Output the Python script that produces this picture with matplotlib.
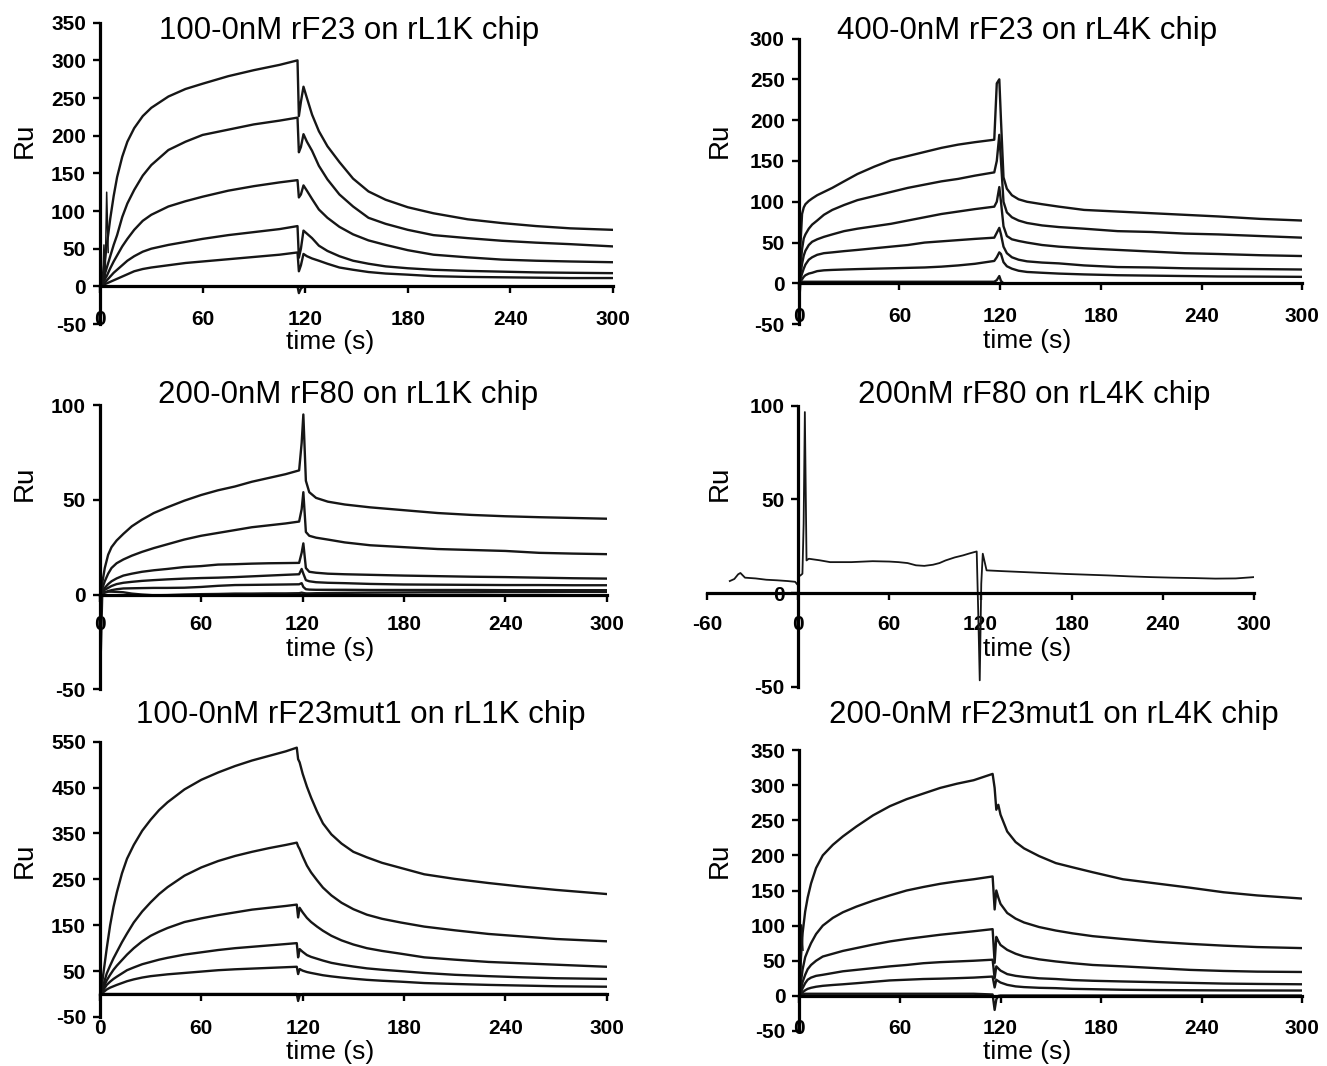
import matplotlib
matplotlib.use("Agg")
import matplotlib.pyplot as plt

plt.rcParams['font.family'] = ['Liberation Sans', 'DejaVu Sans']
plt.rcParams['axes.unicode_minus'] = False

# ---- panel 1: 100-0nM rF23 on rL1K chip ----
p1_t = [0, 1, 2, 4, 6, 8, 10, 13, 16, 20, 25, 30, 40, 50, 60, 75, 90, 105,
        115.5, 116.3, 117.5, 119, 121, 124, 128, 133, 140, 148, 157, 167, 180,
        195, 215, 235, 255, 275, 300]
p1_a = [0, 8, 20, 55, 90, 120, 145, 172, 192, 210, 226, 237, 252, 262, 269, 279, 287, 294,
        300, 226, 245, 265, 250, 228, 206, 186, 165, 143, 126, 115, 105, 97, 89, 84, 80, 77, 75]
p1_b = [0, 3, 10, 25, 40, 55, 68, 92, 110, 128, 147, 161, 181, 192, 201, 208, 215, 220,
        224, 178, 185, 202, 192, 180, 160, 142, 122, 106, 91, 83, 75, 68, 64, 60.5, 58, 56, 53]
p1_c = [0, 2, 6, 14, 24, 33, 41, 53, 63, 75, 87, 95, 106, 113, 119, 127, 133, 138,
        141, 118, 122, 134, 127, 116, 102, 91, 79, 69, 61, 55, 48, 42, 38.5, 35.5, 34, 33, 32]
p1_d = [0, 1, 3, 8, 13, 18, 22, 28, 34, 40, 46, 50, 55, 59, 63, 68, 72, 76,
        80, 38, 50, 74, 70, 64, 54, 47, 40, 34, 30, 26.5, 24, 22, 20.5, 19.5, 18.5, 18, 17.5]
p1_e = [0, 1, 2, 4, 6, 8, 10, 13, 16, 20, 23, 25, 28, 31, 33, 36, 39, 42,
        45, 20, 28, 43, 40, 37, 34, 30, 25, 22, 19, 17, 15.5, 13.5, 12.5, 12, 11.5, 11, 11]
p1_f = [0, 0, 0, 0, 0, 0, 0, 0, 0, 0, 0, 0, 0, 0, 0, 0, 0, 0,
        0, -9, -3, 0, 0, 0, 0, 0, 0, 0, 0, 0, 0, 0, 0, 0, 0, 0, 0]
p1_spike_t = [1.5, 2.3, 3.0, 3.9, 4.8]
p1_spike_v = [0, 55, 10, 125, 45]

# ---- panel 2: 400-0nM rF23 on rL4K chip ----
p2_t = [0, 1, 2, 3, 4, 6, 8, 11, 15, 20, 27, 35, 45, 55, 65, 75, 85, 95, 105,
        116.5, 118, 119.5, 120.5, 122, 124, 127, 131, 136, 145, 155, 170, 190,
        210, 230, 250, 275, 300]
p2_a = [0, 45, 85, 93, 97, 101, 104, 108, 112, 117, 125, 134, 143, 151, 156, 161, 166, 170, 173,
        176, 245, 250, 200, 130, 116, 108, 103, 100, 97, 94, 90, 88, 86, 84, 82, 79, 77]
p2_b = [0, 20, 42, 55, 60, 67, 72, 77, 84, 90, 96, 102, 107, 112, 117, 121, 125, 128, 132,
        136, 150, 182, 150, 100, 87, 81, 77, 74, 71, 69, 67, 64, 63, 61, 60, 58, 56]
p2_c = [0, 10, 24, 34, 40, 47, 51, 54, 57, 60, 64, 67, 70, 73, 77, 81, 85, 88, 91,
        94, 100, 118, 100, 70, 58, 54, 52, 50, 47, 45, 43, 41, 39, 37, 36, 34.5, 33.5]
p2_d = [0, 5, 12, 18, 23, 29, 32, 35, 37, 38, 39.5, 41, 43, 45, 47, 50, 51.5, 53, 54.5,
        56, 62, 68, 60, 45, 37, 32, 29, 27, 25.5, 24.5, 22, 20, 19.5, 18.5, 18, 17.5, 17]
p2_e = [0, 2, 5, 8, 10, 12, 13, 15, 16, 16.5, 17, 17.5, 18, 18.5, 19, 19.5, 20.5, 22, 24,
        27.5, 32, 38, 36, 26, 21, 18, 15.5, 14, 13, 12, 11, 10, 9.5, 9, 8.5, 8.3, 8]
p2_f = [-35, 1, 2, 2, 2, 2, 2, 2, 2, 2, 2, 2, 2, 2, 2, 2, 2, 2, 2,
        2, 4, 9, 3, 0, 0, 0, 0, 0, 0, 0, 0, 0, 0, 0, 0, 0, 0]

# ---- panel 3: 200-0nM rF80 on rL1K chip ----
p3_t = [0, 0.5, 1.5, 3, 5, 7, 10, 14, 19, 25, 32, 40, 50, 60, 70, 80, 90, 100,
        110, 118, 119.5, 120.5, 122, 124, 128, 135, 145, 160, 180, 200, 220,
        240, 260, 280, 300]
p3_a = [0, 2, 6, 14, 21, 25, 28.5, 32, 36, 39.5, 43, 46, 49.5, 52.5, 55, 57, 59.5, 61.5,
        63.5, 65.5, 80, 95, 60, 54, 51, 49, 47.5, 46, 44.5, 43, 42, 41.3, 40.8, 40.4, 40]
p3_b = [0, 1, 3, 7, 11, 14, 16.5, 18.5, 20.5, 22.5, 24.5, 26.5, 29, 31, 32.5, 34, 35.5, 36.5,
        37.5, 38.5, 45, 54, 33, 31, 30, 29, 27.5, 26, 25, 24, 23.5, 23, 22, 21.6, 21.3]
p3_c = [0, 0.5, 1.5, 3.5, 5.5, 7, 8.5, 10, 11, 12, 12.8, 13.5, 14.5, 15, 15.8, 16, 16.3, 16.5,
        16.6, 16.7, 22, 27, 14, 12, 11.5, 11, 10.7, 10.4, 10, 9.7, 9.4, 9.2, 8.9, 8.6, 8.4]
p3_d = [0, 0.3, 1, 2.5, 3.5, 4.5, 5.5, 6.2, 6.7, 7.2, 7.6, 8, 8.4, 8.7, 8.9, 9.2, 9.6, 10,
        10.4, 10.7, 13.5, 11, 7.6, 7, 6.5, 6.2, 6, 5.6, 5.3, 5.2, 5.1, 5, 5, 4.9, 4.9]
p3_e = [0, 0.2, 0.6, 1.2, 1.8, 2.3, 2.8, 3.2, 3.3, 3.4, 3.5, 3.5, 3.6, 4, 4.6, 5, 5.1, 5.2,
        5.3, 5.4, 6, 4, 2.8, 2.6, 2.5, 2.5, 2.5, 2.4, 2.4, 2.4, 2.4, 2.3, 2.3, 2.3, 2.3]
p3_f = [0, -36, 0, 1, 1.5, 1.5, 1.4, 1.2, 0.5, 0, -0.4, -0.3, 0, 0.2, 0.3, 0.5, 0.5, 0.6,
        0.6, 0.7, 1, 0.8, 0.6, 0.6, 0.7, 0.8, 0.9, 1, 1.1, 1.2, 1.2, 1.3, 1.3, 1.4, 1.4]

# ---- panel 4: 200nM rF80 on rL4K chip ----
p4_t = [-45, -42, -39.5, -38, -35, -28, -21, -14, -7, -2, -0.5, 0.5, 1.5, 2.8, 3.6,
        4.4, 5.5, 7, 14, 21, 35, 49, 60, 66, 72, 77.5, 83, 88.7, 93, 97, 103, 108.5,
        113, 117.5, 118.5, 119.5, 120.5, 121.5, 124, 134, 148, 162, 176, 190, 204,
        218, 232, 246.5, 260, 274.6, 288, 300]
p4_v = [6.4, 7.5, 10, 10.7, 8.2, 7.8, 7.1, 6.8, 6.4, 6, 4.5, 9, 9.4, 10.3, 37,
        96.6, 17.4, 18.3, 17.5, 16.5, 16.5, 17, 16.8, 16.5, 16, 14.8, 14.5, 15.1, 16, 17.4, 19, 20.1,
        21.2, 22.2, -10, -46.6, 5, 21, 12.1, 11.7, 11.2, 10.7, 10.2, 9.8, 9.4,
        8.9, 8.5, 8.2, 8, 7.7, 7.8, 8.5]

# ---- panel 5: 100-0nM rF23mut1 on rL1K chip ----
p5_t = [0, 1, 2, 4, 6, 8, 10, 13, 16, 20, 25, 30, 35, 40, 50, 60, 70, 80, 90, 100, 110,
        116.5, 117.3, 118.2, 120, 122.5, 125, 128.5, 132, 137, 143, 150, 158, 167,
        178, 192, 210, 230, 250, 270, 300]
p5_a = [0, 15, 45, 100, 150, 190, 222, 263, 295, 325, 356, 380, 401, 418, 446, 467, 483, 497,
        509, 519, 529, 537, 512, 505, 480, 452, 428, 398, 372, 348, 328, 310, 298, 286,
        275, 261, 251, 242, 234, 227, 218]
p5_b = [0, 8, 20, 45, 62, 78, 92, 113, 132, 156, 180, 200, 218, 233, 258, 276, 290, 301,
        310, 318, 325, 330, 322, 316, 300, 280, 265, 248, 232, 215, 199, 185, 173, 164,
        156, 147, 139, 131, 125.5, 120, 115]
p5_c = [0, 6, 14, 30, 42, 53, 62, 74, 86, 100, 115, 127, 136, 144, 157, 165, 172, 178,
        184, 188, 192, 195, 167, 188, 178, 166, 157, 147, 138, 127, 117, 108, 100, 94,
        88, 80, 75, 70, 67, 64, 59.5]
p5_d = [0, 4, 9, 20, 27, 33, 38, 45, 52, 58, 65, 70, 75, 79, 86, 91, 96, 100,
        103, 106, 109, 111, 80, 98, 92, 85, 81, 77, 73, 68, 64, 60, 56, 53,
        50, 46, 42, 39, 36.5, 34.5, 33]
p5_e = [0, 2, 4, 10, 14, 17, 20, 24, 28, 32, 36, 39, 41, 43, 46, 49, 52, 54,
        55.5, 57, 58.5, 59.5, 43.6, 54.5, 51, 48, 46, 43.5, 41, 38.5, 36, 33.5, 31, 29,
        27, 24, 22, 20, 18.5, 17, 16]
p5_f = [0, 0, 0, 0, 0, 0, 0, 0, 0, 0, 0, 0, 0, 0, 0, 0, 0, 0,
        0, 0, 0, 0, -15, -3, 0, 0, 0, 0, 0, 0, 0, 0, 0, 0,
        0, 0, 0, 0, 0, 0, 0]

# ---- panel 6: 200-0nM rF23mut1 on rL4K chip ----
p6_t = [0, 1, 2, 3.5, 5, 7, 10, 14, 20, 26, 34, 44, 54, 64, 74, 84, 94, 104,
        115.3, 116.5, 117.5, 118.7, 120, 124, 129, 134, 143, 153, 163, 175, 193,
        213, 233, 253, 273, 300]
p6_a = [0, 55, 90, 120, 140, 160, 182, 200, 215, 227, 241, 257, 270, 280, 288, 296, 302, 307,
        316, 296, 265, 272, 258, 234, 219, 210, 199, 189, 183, 176, 166, 160, 154, 147.5, 143, 138.5]
p6_b = [0, 20, 38, 55, 64, 75, 88, 100, 111, 119, 127, 135.5, 143, 150, 155, 159.5, 163, 166,
        170, 123, 150, 140, 131, 118, 110, 104.5, 98, 93, 89, 85, 81, 77, 74, 71.5, 69.5, 68]
p6_c = [0, 10, 20, 30, 38, 44, 50, 56, 60, 64, 68, 73, 77.5, 81, 84, 87, 89.5, 92,
        95, 47, 84, 78, 72.5, 65.5, 60, 56, 52, 49, 46.5, 44, 42, 39.5, 37, 35.5, 34.5, 34]
p6_d = [0, 5, 11, 18, 23, 26, 28.5, 30, 32.5, 35, 37, 39.5, 42, 44, 46.5, 48, 49, 50,
        51.5, 25, 42, 39, 36, 31, 28.5, 27, 25, 24, 22.5, 21.5, 20.5, 19.5, 18.5, 17.5, 17, 16.5]
p6_e = [0, 2, 5, 8, 10, 11.5, 13, 14.3, 15.5, 16.5, 18, 20, 22, 23, 24, 24.5, 25.2, 26,
        27.5, 12, 23, 21, 19, 15.7, 13.5, 12.5, 11.5, 11, 10, 9.5, 8.7, 8.3, 8, 7.8, 7.7, 7.6]
p6_f = [0, 1, 2, 3, 3, 3, 3, 3, 3, 3, 3, 3, 3, 3, 3, 3, 3, 3,
        2, -20, -5, 0, 0.5, 0.5, 0.5, 0.5, 0.5, 0.5, 0.5, 0.5, 0.5, 0.5, 0.5, 0.5, 0.5, 0.5]
p6_spike_t = [0.5, 1.3, 2.2]
p6_spike_v = [0, 101, 65]

titles = ["100-0nM rF23 on rL1K chip", "400-0nM rF23 on rL4K chip",
          "200-0nM rF80 on rL1K chip", "200nM rF80 on rL4K chip",
          "100-0nM rF23mut1 on rL1K chip", "200-0nM rF23mut1 on rL4K chip"]

W, H = 1327, 1066
fig = plt.figure(figsize=(W / 100, H / 100), dpi=100)
LINE = '#161616'
LW = 1.7


def add_panel(box, xlim, ylim, xticks, yticks, xpad, title, title_xy, xlab_xy, ylab_xy):
    x0, x1, ytop, ybot = box
    ax = fig.add_axes([x0 / W, 1 - ybot / H, (x1 - x0) / W, (ybot - ytop) / H])
    ax.set_xlim(xlim)
    ax.set_ylim(ylim)
    ax.patch.set_visible(False)
    for s in ('top', 'right'):
        ax.spines[s].set_visible(False)
    ax.spines['left'].set_position(('data', 0))
    ax.spines['bottom'].set_position(('data', 0))
    for s in ('left', 'bottom'):
        ax.spines[s].set_linewidth(2.3)
    ax.set_xticks(xticks)
    ax.set_yticks(yticks)
    ax.tick_params(axis='both', direction='out', length=5, width=1.7, labelsize=15)
    ax.tick_params(axis='x', pad=xpad)
    ax.tick_params(axis='y', pad=5)
    for lab in ax.get_xticklabels() + ax.get_yticklabels():
        lab.set_fontweight('bold')
    fig.text(title_xy[0] / W, 1 - title_xy[1] / H, title, fontsize=22.5,
             ha='center', va='center')
    fig.text(xlab_xy[0] / W, 1 - xlab_xy[1] / H, "time (s)", fontsize=19,
             ha='center', va='center')
    fig.text(ylab_xy[0] / W, 1 - ylab_xy[1] / H, "Ru", fontsize=20,
             ha='center', va='center', rotation=90)
    return ax


xt = [0, 60, 120, 180, 240, 300]

ax1 = add_panel((100, 613, 22.7, 324), (0, 300), (-50, 350), xt, range(-50, 351, 50), 12,
                titles[0], (349, 31), (330, 342), (25, 140))
for v in (p1_a, p1_b, p1_c, p1_d, p1_e, p1_f):
    ax1.plot(p1_t, v, color=LINE, lw=LW)
ax1.plot(p1_spike_t, p1_spike_v, color=LINE, lw=1.1)

ax2 = add_panel((798.7, 1302.3, 38.5, 324.2), (0, 300), (-50, 300), xt, range(-50, 301, 50), 12.3,
                titles[1], (1027, 31), (1027, 341), (720, 140))
for v in (p2_a, p2_b, p2_c, p2_d, p2_e, p2_f):
    ax2.plot(p2_t, v, color=LINE, lw=LW)

ax3 = add_panel((99.7, 606.7, 405, 689.3), (0, 300), (-50, 100), xt, [-50, 0, 50, 100], 10,
                titles[2], (348, 395), (330, 649), (25, 483))
for v in (p3_a, p3_b, p3_c, p3_d, p3_e, p3_f):
    ax3.plot(p3_t, v, color=LINE, lw=LW)

ax4 = add_panel((707, 1254, 405.7, 686.7), (-60, 300), (-50, 100), [-60] + xt, [-50, 0, 50, 100], 10.5,
                titles[3], (1034, 395), (1027, 649), (720, 483))
ax4.plot(p4_t, p4_v, color=LINE, lw=1.3)

ax5 = add_panel((100, 606.7, 741.7, 1017), (0, 300), (-50, 550), xt, range(-50, 551, 100), 13,
                titles[4], (361, 715), (330, 1052), (25, 860))
for v in (p5_a, p5_b, p5_c, p5_d, p5_e, p5_f):
    ax5.plot(p5_t, v, color=LINE, lw=LW)

ax6 = add_panel((799.3, 1302.3, 750, 1031), (0, 300), (-50, 350), xt, range(-50, 351, 50), 12,
                titles[5], (1054, 715), (1027, 1052), (720, 860))
for v in (p6_a, p6_b, p6_c, p6_d, p6_e, p6_f):
    ax6.plot(p6_t, v, color=LINE, lw=LW)
ax6.plot(p6_spike_t, p6_spike_v, color=LINE, lw=1.1)

fig.savefig("out.png", dpi=100)
